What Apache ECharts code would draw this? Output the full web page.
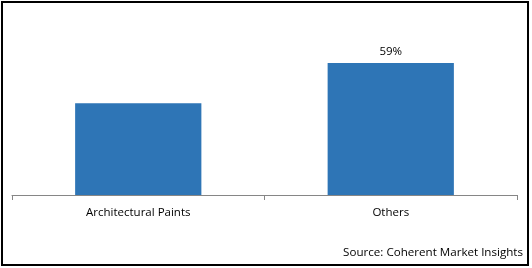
<!DOCTYPE html>
<html>
<head>
<meta charset="utf-8">
<script src="https://cdn.jsdelivr.net/npm/echarts@6/dist/echarts.min.js"></script>
<style>
html,body{margin:0;padding:0;background:#fff;}
#c{position:absolute;left:0;top:0;width:532px;height:268px;}
</style>
</head>
<body>
<div id="c"></div>
<script>
var categories = ["Architectural Paints", "Others"];
var values = [41, 59];
var labelShown = [false, true];
var sourceText = "Source: Coherent Market Insights";

var chart = echarts.init(document.getElementById('c'), null, {renderer: 'canvas'});
var fontFam = "'Open Sans', 'Noto Sans', sans-serif";
chart.setOption({
  animation: false,
  backgroundColor: '#fff',
  grid: {left: 12, right: 15, top: 38.4, bottom: 73, containLabel: false},
  graphic: [
    {type: 'rect', shape: {x: 2, y: 2, width: 526, height: 263}, style: {fill: 'none', stroke: '#000', lineWidth: 2}, silent: true},
    {type: 'text', right: 9, top: 247, style: {text: sourceText, font: '11.6px ' + fontFam, fill: '#000', textAlign: 'right'}}
  ],
  xAxis: {
    type: 'category',
    data: categories,
    axisLine: {lineStyle: {color: '#868686', width: 1}},
    axisTick: {show: true, length: 5, lineStyle: {color: '#868686'}},
    axisLabel: {color: '#000', fontSize: 11.5, fontFamily: fontFam, margin: 12}
  },
  yAxis: {
    type: 'value', min: 0, max: 70, show: false,
    splitLine: {show: false}
  },
  series: [{
    type: 'bar',
    barWidth: '50%',
    data: values.map(function (v, i) {
      return {value: v, label: {show: labelShown[i]}};
    }),
    itemStyle: {color: '#2E75B6'},
    label: {position: 'top', distance: 5, formatter: '{c}%', color: '#000', fontSize: 11.5, fontFamily: fontFam}
  }]
});
</script>
</body>
</html>
